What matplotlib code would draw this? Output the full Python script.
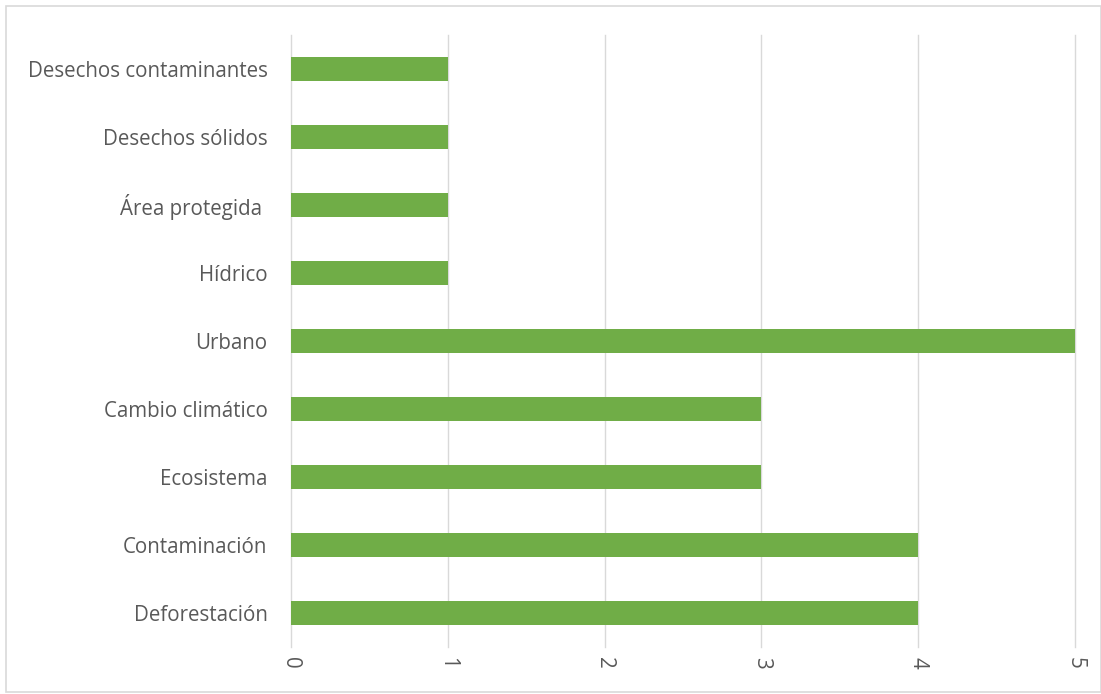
import matplotlib
matplotlib.use("Agg")
import matplotlib.pyplot as plt
from matplotlib.patches import Rectangle

categories = ["Deforestación", "Contaminación", "Ecosistema", "Cambio climático",
              "Urbano", "Hídrico", "Área protegida ", "Desechos sólidos",
              "Desechos contaminantes"]
values = [4, 4, 3, 3, 5, 1, 1, 1, 1]
xticks = [0, 1, 2, 3, 4, 5]

plt.rcParams['font.family'] = ['Open Sans', 'DejaVu Sans']

fig = plt.figure(figsize=(11.01, 6.94), dpi=100)
W, H = 1101, 694
ax = fig.add_axes([291 / W, 1 - 647 / H, (1075 - 291) / W, (647 - 35) / H])

ax.barh(range(len(categories)), values, height=0.35, color="#70AD47", zorder=3)
ax.set_xlim(0, 5)
ax.set_ylim(-0.5, len(categories) - 0.5)
ax.set_yticks(range(len(categories)))
ax.set_yticklabels(categories, fontsize=14.8, color="#595959")
ax.set_xticks(xticks)
ax.set_xticklabels([str(t) for t in xticks], rotation=-90, fontsize=14.8,
                   color="#595959")
ax.tick_params(axis='both', length=0)
ax.tick_params(axis='y', pad=17)
ax.tick_params(axis='x', pad=7)
ax.grid(axis='x', color="#D9D9D9", linewidth=1, zorder=0)
for gl in ax.get_xgridlines():
    gl.set_clip_on(False)
for s in ax.spines.values():
    s.set_visible(False)

fig.patches.append(Rectangle((6 / W, 2 / H), (W - 6) / W, (H - 8) / H,
                             transform=fig.transFigure, fill=False,
                             edgecolor="#D9D9D9", linewidth=1.2))

fig.savefig("out.png", dpi=100, facecolor="white")
